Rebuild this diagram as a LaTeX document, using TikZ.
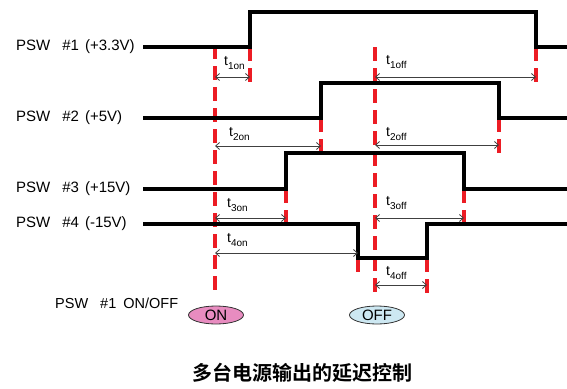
\documentclass[tikz,border=0pt]{standalone}
\usepackage{fontspec}
\setmainfont{Liberation Sans}
\newfontfamily\cjk{Noto Sans CJK SC}[BoldFont={Noto Sans CJK SC Bold}]
\usetikzlibrary{arrows.meta,shapes.geometric}
\definecolor{sigred}{RGB}{236,28,36}
\definecolor{onpink}{RGB}{232,140,192}
\definecolor{offblue}{RGB}{205,232,242}
\newcommand\tsub[1]{t\raisebox{-0.45ex}{\fontsize{10}{10}\selectfont #1}}
\begin{document}
\begin{tikzpicture}[x=1pt,y=-1pt,
  sig/.style={line width=3.8pt, line join=miter},
  reddash/.style={draw=sigred, line width=3.6pt, dash pattern=on 14pt off 7pt},
  tarrow/.style={draw=black!75, line width=0.8pt, {Straight Barb[length=4pt,width=7pt]}-{Straight Barb[length=4pt,width=7pt]}},
  lbl/.style={anchor=west, inner sep=0pt, font=\fontsize{15}{17}\selectfont},
  tlab/.style={anchor=west, inner sep=0pt, font=\fontsize{14}{16}\selectfont},
  btn/.style={ellipse, draw=black!80, line width=0.8pt, minimum width=55pt, minimum height=18pt, inner sep=0pt, font=\fontsize{15}{17}\selectfont}
]
\useasboundingbox (0,0) rectangle (567,388);

% labels
\node[lbl] (l1) at (16,47) {PSW\hspace{12pt}\#1\hspace{6pt}(+3.3V)};
\node[lbl] (l2) at (16,118) {PSW\hspace{12pt}\#2\hspace{6pt}(+5V)};
\node[lbl] (l3) at (16,189) {PSW\hspace{12pt}\#3\hspace{6pt}(+15V)};
\node[lbl] (l4) at (16,224) {PSW\hspace{12pt}\#4\hspace{6pt}(-15V)};
\node[lbl, font=\fontsize{14.5}{17}\selectfont] (l5) at (55,303) {PSW\hspace{12pt}\#1\hspace{7pt}ON/OFF};

% signal coordinates
\coordinate (a0) at (143,47);  \coordinate (a1) at (250,47);  \coordinate (a2) at (250,12);
\coordinate (a3) at (536,12);  \coordinate (a4) at (536,47);  \coordinate (a5) at (567,47);
\coordinate (b0) at (143,118); \coordinate (b1) at (321,118); \coordinate (b2) at (321,83);
\coordinate (b3) at (499,83);  \coordinate (b4) at (499,118); \coordinate (b5) at (567,118);
\coordinate (c0) at (143,189); \coordinate (c1) at (286,189); \coordinate (c2) at (286,153);
\coordinate (c3) at (464,153); \coordinate (c4) at (464,189); \coordinate (c5) at (567,189);
\coordinate (d0) at (143,224); \coordinate (d1) at (358,224); \coordinate (d2) at (358,258);
\coordinate (d3) at (427,258); \coordinate (d4) at (427,224); \coordinate (d5) at (567,224);

% red lines
\coordinate (onT) at (215,45);  \coordinate (onB) at (215,297);
\coordinate (offT) at (375,47); \coordinate (offB) at (375,297);
\draw[reddash] (onT) -- (onB);
\draw[reddash] (offT) -- (offB);
\coordinate (m1) at (250,82); \coordinate (m2) at (536,82);
\coordinate (m3) at (321,153); \coordinate (m4) at (499,153);
\coordinate (m5) at (286,224); \coordinate (m6) at (464,224);
\coordinate (m7) at (358,272); \coordinate (m8) at (427,293);
\draw[reddash] (a1) -- (m1);
\draw[reddash] (a4) -- (m2);
\draw[reddash] (b1) -- (m3);
\draw[reddash] (b4) -- (m4);
\draw[reddash] (c1) -- (m5);
\draw[reddash] (c4) -- (m6);
\draw[reddash] (d2) -- (m7);
\draw[reddash] (d3) -- (m8);

% signals
\draw[sig] (a0) -- (a1) -- (a2) -- (a3) -- (a4) -- (a5);
\draw[sig] (b0) -- (b1) -- (b2) -- (b3) -- (b4) -- (b5);
\draw[sig] (c0) -- (c1) -- (c2) -- (c3) -- (c4) -- (c5);
\draw[sig] (d0) -- (d1) -- (d2) -- (d3) -- (d4) -- (d5);

% timing arrows
\coordinate (p1a) at (215,77);  \coordinate (p1b) at (250,77);
\coordinate (q1a) at (375,77);  \coordinate (q1b) at (536,77);
\coordinate (p2a) at (215,146); \coordinate (p2b) at (321,146);
\coordinate (q2a) at (375,145); \coordinate (q2b) at (499,145);
\coordinate (p3a) at (215,218); \coordinate (p3b) at (286,218);
\coordinate (q3a) at (375,218); \coordinate (q3b) at (464,218);
\coordinate (p4a) at (215,253); \coordinate (p4b) at (358,253);
\coordinate (q4a) at (375,285); \coordinate (q4b) at (427,285);
\draw[tarrow] (p1a) -- (p1b);
\draw[tarrow] (q1a) -- (q1b);
\draw[tarrow] (p2a) -- (p2b);
\draw[tarrow] (q2a) -- (q2b);
\draw[tarrow] (p3a) -- (p3b);
\draw[tarrow] (q3a) -- (q3b);
\draw[tarrow] (p4a) -- (p4b);
\draw[tarrow] (q4a) -- (q4b);

\node[tlab] (t1) at (224,63) {\tsub{1on}};
\node[tlab] (t1o) at (386,62) {\tsub{1off}};
\node[tlab] (t2) at (229,134) {\tsub{2on}};
\node[tlab] (t2o) at (386,134) {\tsub{2off}};
\node[tlab] (t3) at (227,205) {\tsub{3on}};
\node[tlab] (t3o) at (386,203) {\tsub{3off}};
\node[tlab] (t4) at (227,240) {\tsub{4on}};
\node[tlab] (t4o) at (386,273) {\tsub{4off}};

% buttons
\node[btn, fill=onpink] (on) at (216,315) {ON};
\node[btn, fill=offblue] (off) at (377,315) {OFF};

% title
\node[inner sep=0pt, font=\cjk\bfseries\fontsize{20}{22}\selectfont] (title) at (302,373) {多台电源输出的延迟控制};
\end{tikzpicture}
\end{document}
